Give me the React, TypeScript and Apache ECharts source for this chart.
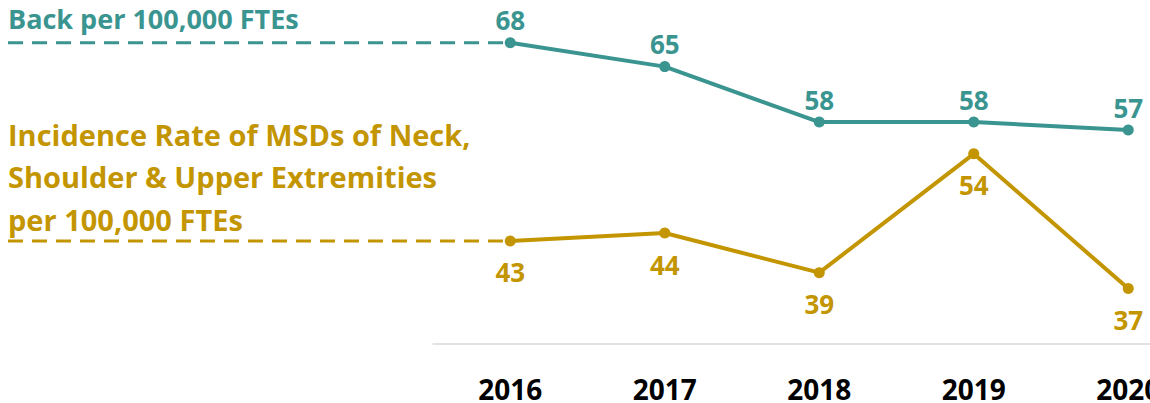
import React, { useEffect, useRef } from "react";
import * as echarts from "echarts";

const years = ["2016", "2017", "2018", "2019", "2020"];
const backRate = [68, 65, 58, 58, 57];
const neckRate = [43, 44, 39, 54, 37];
const backLabel = ["Back per 100,000 FTEs"];
const neckLabel = [
  "Incidence Rate of MSDs of Neck,",
  "Shoulder & Upper Extremities",
  "per 100,000 FTEs",
];

const TEAL = "#3a9490";
const GOLD = "#c39500";
const FONT = "Open Sans";

export default function App() {
  const ref = useRef<HTMLDivElement>(null);
  useEffect(() => {
    document.body.style.margin = "0";
    document.body.style.overflow = "hidden";
    const chart = echarts.init(ref.current!, null, { renderer: "svg" });
    chart.setOption({
      animation: false,
      backgroundColor: "#ffffff",
      grid: { left: 433, width: 772.5, top: 27, bottom: 56, containLabel: false },
      xAxis: {
        type: "category",
        data: years,
        boundaryGap: true,
        axisLine: { show: true, lineStyle: { color: "#d9d9d9", width: 1.5 } },
        axisTick: { show: false },
        axisLabel: {
          color: "#000000",
          fontFamily: FONT,
          fontWeight: "bold",
          fontSize: 28,
          lineHeight: 18,
          margin: 36,
        },
      },
      yAxis: {
        type: "value",
        min: 30,
        max: 70,
        show: false,
        splitLine: { show: false },
      },
      series: [
        {
          name: "Back",
          type: "line",
          data: backRate,
          symbol: "circle",
          symbolSize: 11,
          lineStyle: { color: TEAL, width: 4 },
          itemStyle: { color: TEAL },
          label: {
            show: true,
            position: "top",
            distance: 4,
            color: TEAL,
            fontFamily: FONT,
            fontWeight: "bold",
            fontSize: 26,
          },
        },
        {
          name: "Neck",
          type: "line",
          data: neckRate,
          symbol: "circle",
          symbolSize: 11,
          lineStyle: { color: GOLD, width: 4 },
          itemStyle: { color: GOLD },
          label: {
            show: true,
            position: "bottom",
            distance: 13,
            color: GOLD,
            fontFamily: FONT,
            fontWeight: "bold",
            fontSize: 26,
          },
        },
      ],
    });
    const pb = chart.convertToPixel({ seriesIndex: 0 }, [0, backRate[0]]) as number[];
    const pn = chart.convertToPixel({ seriesIndex: 1 }, [0, neckRate[0]]) as number[];
    const dash = (p: number[], color: string) => ({
      type: "line",
      shape: { x1: 8, y1: p[1], x2: p[0] - 6, y2: p[1] },
      style: { stroke: color, lineWidth: 3, lineDash: [15, 9] },
      silent: true,
    });
    const label = (
      lines: string[],
      p: number[],
      color: string,
      offset: number,
      size: number,
      lh: number
    ) => ({
      type: "text",
      x: 8,
      y: p[1] + offset,
      style: {
        text: lines.join("\n"),
        fill: color,
        fontFamily: FONT,
        fontWeight: "bold",
        fontSize: size,
        lineHeight: lh,
        verticalAlign: "top",
        align: "left",
      },
      silent: true,
    });
    chart.setOption({
      graphic: [
        dash(pb, TEAL),
        dash(pn, GOLD),
        label(backLabel, pb, TEAL, -39.5, 27, 30),
        label(neckLabel, pn, GOLD, -128, 29, 42.5),
      ],
    });
    return () => chart.dispose();
  }, []);
  return (
    <div
      style={{
        position: "fixed",
        left: 0,
        top: 0,
        width: 1150,
        height: 403,
        overflow: "hidden",
        background: "#fff",
      }}
    >
      <div ref={ref} style={{ width: 1210, height: 403 }} />
    </div>
  );
}
